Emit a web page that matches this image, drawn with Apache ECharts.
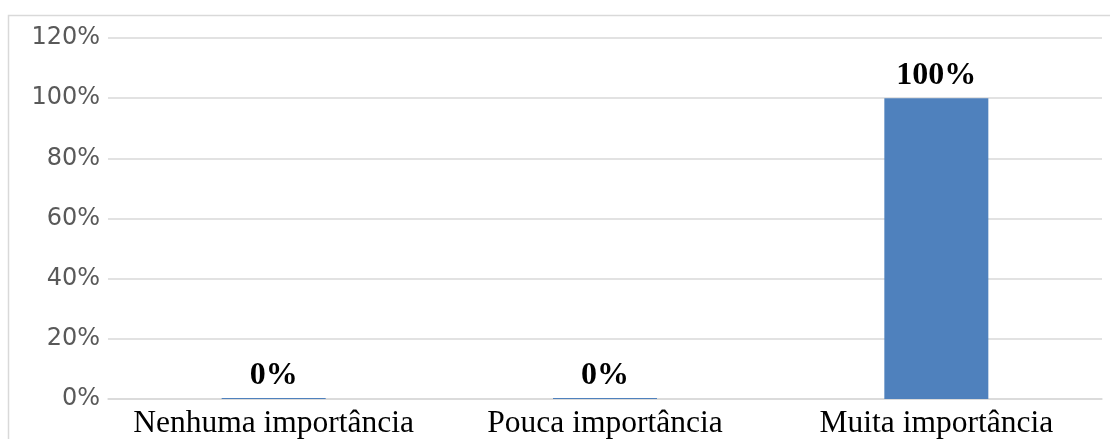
<!DOCTYPE html>
<html>
<head>
<meta charset="utf-8">
<style>
  html, body { margin: 0; padding: 0; background: #ffffff; }
  #chart { width: 1110px; height: 439px; }
</style>
<script src="https://cdn.jsdelivr.net/npm/echarts@6/dist/echarts.min.js"></script>
</head>
<body>
<div id="chart"></div>
<script>
// Categories and shares (percent)
const categories = ['Nenhuma importância', 'Pouca importância', 'Muita importância'];
const shares = [0, 0, 100];
const yTicks = { min: 0, max: 120, step: 20 };

const chart = echarts.init(document.getElementById('chart'), null, { renderer: 'canvas' });

chart.setOption({
  animation: false,
  backgroundColor: '#ffffff',
  graphic: [{
    type: 'rect',
    shape: { x: 8.5, y: 15.5, width: 1110, height: 440 },
    style: { fill: 'none', stroke: '#d9d9d9', lineWidth: 1.5 },
    silent: true
  }],
  grid: { left: 108, right: 8, top: 38, bottom: 40, containLabel: false, outerBoundsMode: 'none' },
  xAxis: {
    type: 'category',
    data: categories,
    axisLine: { show: true, lineStyle: { color: '#d9d9d9', width: 1.5 } },
    axisTick: { show: false },
    axisLabel: {
      interval: 0,
      hideOverlap: false,
      fontFamily: 'Liberation Serif',
      fontSize: 31.5,
      color: '#000000',
      margin: 9
    }
  },
  yAxis: {
    type: 'value',
    min: yTicks.min,
    max: yTicks.max,
    interval: yTicks.step,
    axisLine: { show: false },
    axisTick: { show: false },
    splitLine: { lineStyle: { color: '#d9d9d9', width: 1.5 } },
    axisLabel: {
      formatter: '{value}%',
      fontFamily: 'DejaVu Sans',
      fontSize: 24,
      color: '#595959',
      margin: 8
    }
  },
  series: [{
    type: 'bar',
    data: shares,
    barWidth: 104,
    barMinHeight: 1,
    itemStyle: { color: '#4f81bd' },
    label: {
      show: true,
      position: 'top',
      distance: 6,
      formatter: '{c}%',
      fontFamily: 'Liberation Serif',
      fontWeight: 'bold',
      fontSize: 32,
      color: '#000000'
    }
  }]
});
</script>
</body>
</html>
